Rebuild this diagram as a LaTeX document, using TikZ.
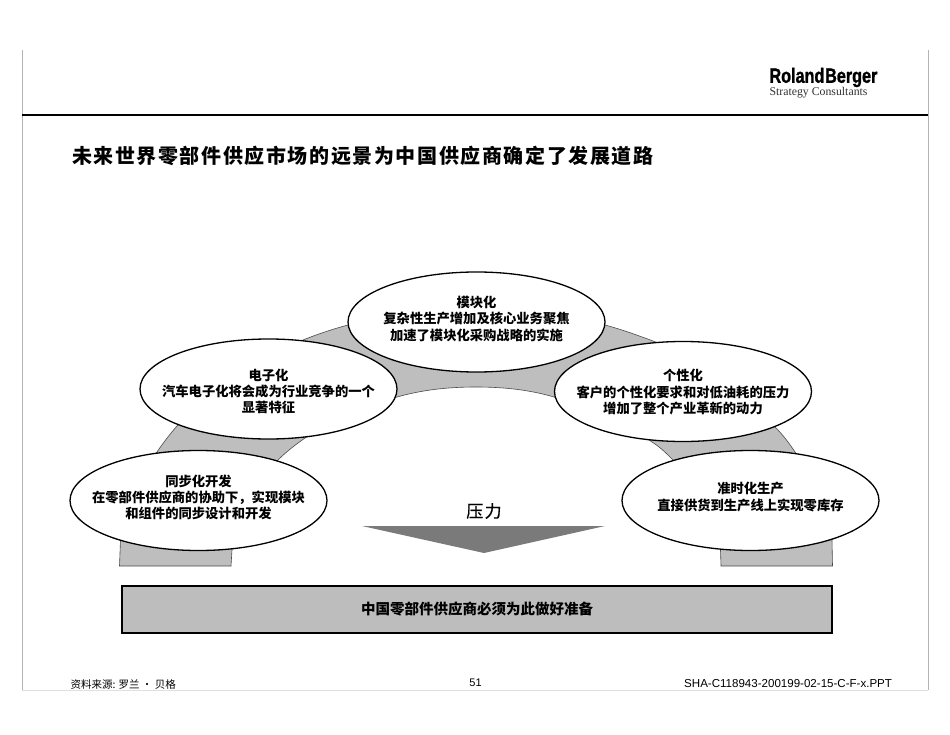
\documentclass[tikz,border=0pt]{standalone}
\usepackage{fontspec}
\setmainfont{Liberation Sans}
\newfontfamily\cjk{Noto Sans CJK SC}
\newfontfamily\logoserif{Liberation Serif}
\definecolor{band}{HTML}{BEBEBE}
\definecolor{bar}{HTML}{BDBDBD}
\definecolor{arrowgray}{HTML}{7A7A7A}
\definecolor{framegray}{HTML}{B4B4B4}
\newcommand{\bubtext}[2]{\makebox[0pt][c]{\raisebox{#1}[0pt][0pt]{\begin{tabular}{@{}c@{}}#2\end{tabular}}}}
\tikzset{
  bubble/.style={draw=black,fill=white,line width=1.3pt,ellipse,inner sep=0pt,
    minimum width=257pt,minimum height=100pt,font=\cjk\bfseries\fontsize{13.3}{16.2}\selectfont,text=black},
  plain/.style={inner sep=0pt,outer sep=0pt,text=black},
}
\usetikzlibrary{shapes.geometric}
\begin{document}
\begin{tikzpicture}[x=1pt,y=-1pt]
\useasboundingbox (0,0) rectangle (950,735);
\fill[white] (0,0) rectangle (950,735);
% frame
\draw[framegray,line width=0.8pt] (22,50) -- (22,690);
\draw[framegray,line width=0.8pt] (928,50) -- (928,690);
\draw[black!12,line width=0.8pt] (22,690) -- (928,690);
\draw[black,line width=1.3pt] (22,115) -- (928,115);
% logo
\node[plain,anchor=west] (logo) at (769.5,77.5) {\scalebox{0.79}[1]{\fontsize{20.5}{21}\selectfont\bfseries\addfontfeature{FakeBold=1.5}Roland\hspace{1pt}Berger}};
\node[plain,anchor=west,text=black!80] (tag) at (769.5,93) {\logoserif\fontsize{11.8}{12}\selectfont Strategy Consultants};
% title
\node[plain,anchor=west] (title) at (72,156) {\cjk\bfseries\fontsize{20}{22}\selectfont\addfontfeature{LetterSpace=8}未来世界零部件供应市场的远景为中国供应商确定了发展道路};
% arch band
\filldraw[fill=band,draw=black!70,line width=0.6pt]
  (119.5,566) -- (120.5,540)
  .. controls (125,505) and (140,472) .. (157,452)
  .. controls (163,443) and (170,434) .. (177,426)
  .. controls (215,385) and (260,355) .. (303,340)
  .. controls (318,334) and (333,329) .. (348,325)
  .. controls (390,313) and (560,313) .. (605,325)
  .. controls (620,329) and (637,335) .. (653,341)
  .. controls (700,360) and (745,392) .. (776,428)
  .. controls (783,435) and (789,443) .. (795,452)
  .. controls (815,480) and (829,510) .. (832,540)
  -- (832.5,566) -- (721,566) -- (720.5,550)
  .. controls (712,512) and (696,483) .. (673,460)
  .. controls (666,453) and (660,447) .. (652,442)
  .. controls (620,420) and (585,405) .. (554,397)
  .. controls (530,390) and (505,387) .. (476,387)
  .. controls (447,387) and (422,390) .. (397,397)
  .. controls (365,405) and (335,420) .. (305,438)
  .. controls (295,445) and (286,452) .. (278,460)
  .. controls (256,483) and (240,515) .. (232,550)
  -- (231,566) -- cycle;
% ellipses
\node[bubble] (mod) at (476.5,322) {\bubtext{-2.3pt}{模块化\\复杂性生产增加及核心业务聚焦\\加速了模块化采购战略的实施}};
\node[bubble] (ele) at (268.5,389) {\bubtext{-7.8pt}{电子化\\汽车电子化将会成为行业竞争的一个\\显著特征}};
\node[bubble] (ind) at (683,391.5) {\bubtext{-5.8pt}{个性化\\客户的个性化要求和对低油耗的压力\\增加了整个产业革新的动力}};
\node[bubble] (syn) at (198.5,500.5) {\bubtext{-2.3pt}{同步化开发\\在零部件供应商的协助下，实现模块\\和组件的同步设计和开发}};
\node[bubble] (jit) at (750.5,500.5) {\bubtext{-1.8pt}{准时化生产\\直接供货到生产线上实现零库存}};
% pressure
\node[plain] (press) at (484,511) {\cjk\fontsize{17}{20}\selectfont\addfontfeature{LetterSpace=8,FakeBold=0.6}压力};
\fill[arrowgray] (362,526) -- (605,526) -- (484,553) -- cycle;
% bottom bar
\node[draw=black,fill=bar,line width=1.2pt,minimum width=710pt,minimum height=47pt,inner sep=0pt,
  font=\cjk\bfseries\fontsize{14.5}{17}\selectfont] (prep) at (477,609.5) {中国零部件供应商必须为此做好准备};
% footer
\node[plain,anchor=west] (src) at (70.5,685) {\cjk\fontsize{10.5}{12}\selectfont 资料来源: 罗兰 · 贝格};
\node[plain] (page) at (475.5,683) {\fontsize{11}{12}\selectfont 51};
\node[plain,anchor=east] (file) at (892,684) {\fontsize{11.55}{12}\selectfont SHA-C118943-200199-02-15-C-F-x.PPT};
\end{tikzpicture}
\end{document}
